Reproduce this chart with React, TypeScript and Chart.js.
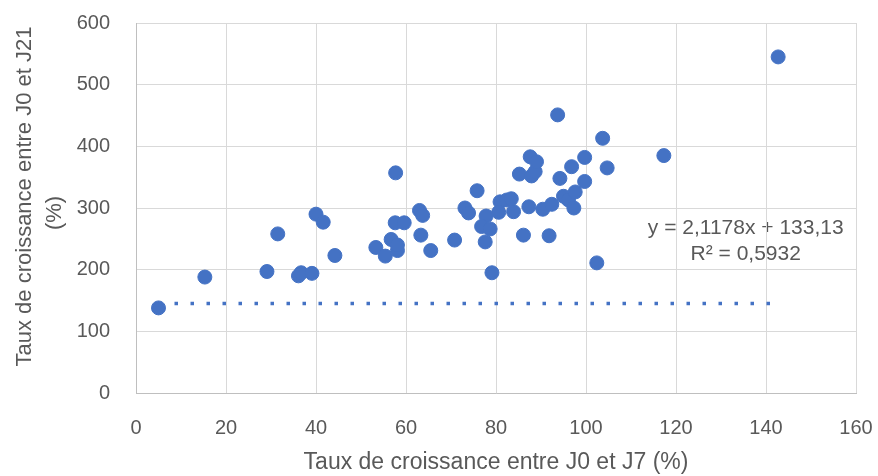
import React, { useEffect, useRef } from "react";
import { Chart, registerables } from "chart.js";

Chart.register(...registerables);

// Growth rate between J0 and J7 (%)
const growthJ0J7 = [
  5.0, 15.3, 29.1, 31.5, 36.1, 36.7, 39.1, 40.0, 41.6, 44.2,
  53.3, 55.4, 56.7, 57.7, 57.6, 58.1, 58.1, 59.6, 63.0, 63.7,
  63.3, 65.5, 70.8, 73.1, 73.9, 75.8, 77.8, 76.8, 78.7, 77.6,
  79.1, 80.9, 80.6, 82.4, 83.9, 83.4, 85.2, 86.1, 87.3, 87.6,
  87.9, 88.7, 89.0, 90.4, 91.8, 92.4, 93.7, 94.2, 95.0, 96.1,
  96.8, 97.3, 97.6, 99.7, 99.7, 102.4, 103.7, 104.7, 117.3, 142.7,
];
// Growth rate between J0 and J21 (%)
const growthJ0J21 = [
  138, 188, 197, 258, 190, 195, 194, 290, 277, 223,
  236, 222, 249, 357, 276, 231, 240, 276, 296, 288,
  256, 231, 248, 300, 292, 328, 287, 270, 266, 245,
  195, 310, 293, 313, 294, 315, 355, 256, 302, 383,
  352, 359, 375, 298, 255, 306, 451, 348, 319, 313,
  367, 300, 326, 343, 382, 211, 413, 365, 385, 545,
];
// Trend line as drawn in the original (dotted)
const trendX = [5, 141];
const trendY = [145, 145];

const xMin = 0, xMax = 160, xStep = 20;
const yMin = 0, yMax = 600, yStep = 100;

const xTitle = "Taux de croissance entre J0 et J7 (%)";
const yTitleLines = ["Taux de croissance entre J0 et J21", "(%)"];
const equationLines = ["y = 2,1178x + 133,13", "R² = 0,5932"];
const equationAnchor = { x: 135.5, y: 268 };

const FONT = "'Liberation Sans', Arial, sans-serif";
const TEXT = "#595959";
const BLUE = "#4472C4";

export default function App() {
  const ref = useRef<HTMLCanvasElement | null>(null);

  useEffect(() => {
    const canvas = ref.current;
    if (!canvas) return;

    const textPlugin = {
      id: "texts",
      beforeDraw(chart: any) {
        const ctx = chart.ctx;
        const sx = chart.scales.x;
        const sy = chart.scales.y;
        ctx.save();
        ctx.fillStyle = TEXT;
        ctx.font = `21px ${FONT}`;
        ctx.textAlign = "center";
        ctx.textBaseline = "middle";
        const ex = sx.getPixelForValue(equationAnchor.x);
        const ey = sy.getPixelForValue(equationAnchor.y);
        ctx.fillText(equationLines[0], ex, ey);
        ctx.fillText(equationLines[1], ex, ey + 26);
        ctx.restore();
      },
      afterDraw(chart: any) {
        const ctx = chart.ctx;
        ctx.save();
        ctx.fillStyle = TEXT;
        ctx.font = `22px ${FONT}`;
        ctx.textAlign = "center";
        ctx.textBaseline = "middle";
        const pos = [
          { x: 25, y: 196.5 },
          { x: 55, y: 213 },
        ];
        yTitleLines.forEach((t, i) => {
          ctx.save();
          ctx.translate(pos[i].x, pos[i].y);
          ctx.rotate(-Math.PI / 2);
          ctx.fillText(t, 0, 0);
          ctx.restore();
        });
        ctx.restore();
      },
    };

    const chart = new Chart(canvas, {
      type: "scatter",
      data: {
        datasets: [
          {
            label: "points",
            data: growthJ0J7.map((x, i) => ({ x, y: growthJ0J21[i] })),
            backgroundColor: BLUE,
            borderColor: BLUE,
            borderWidth: 1,
            pointRadius: 7,
            order: 0,
          },
          {
            label: "trend",
            data: trendX.map((x, i) => ({ x, y: trendY[i] })),
            showLine: true,
            borderColor: BLUE,
            borderWidth: 3.5,
            borderDash: [3.5, 12.5],
            borderCapStyle: "butt",
            pointRadius: 0,
            fill: false,
            order: 1,
          } as any,
        ],
      },
      options: {
        responsive: false,
        animation: false,
        devicePixelRatio: 1,
        layout: { padding: { top: 23, right: 22, left: 0, bottom: 0 } },
        plugins: {
          legend: { display: false },
          tooltip: { enabled: false },
        },
        scales: {
          x: {
            type: "linear",
            min: xMin,
            max: xMax,
            ticks: {
              stepSize: xStep,
              color: TEXT,
              font: { family: FONT, size: 20 },
              padding: 23,
            },
            grid: { color: "#d9d9d9", lineWidth: 1, drawTicks: false },
            border: { display: true, color: "#bfbfbf", width: 1 },
            title: {
              display: true,
              text: xTitle,
              color: TEXT,
              font: { family: FONT, size: 23 },
              padding: { top: 0, bottom: 0 },
            },
            afterFit(scale: any) {
              scale.height = 83;
              scale.paddingLeft = 0;
              scale.paddingRight = 0;
            },
          },
          y: {
            type: "linear",
            min: yMin,
            max: yMax,
            ticks: {
              stepSize: yStep,
              color: TEXT,
              font: { family: FONT, size: 20 },
              padding: 26,
            },
            grid: { color: "#d9d9d9", lineWidth: 1, drawTicks: false },
            border: { display: true, color: "#bfbfbf", width: 1 },
            afterFit(scale: any) {
              scale.width = 136;
              scale.paddingTop = 0;
              scale.paddingBottom = 0;
            },
          },
        },
      },
      plugins: [textPlugin],
    });

    return () => chart.destroy();
  }, []);

  return (
    <div style={{ position: "absolute", left: 0, top: 0, width: 878, height: 476, background: "#fff" }}>
      <canvas ref={ref} width={878} height={476} style={{ width: 878, height: 476 }} />
    </div>
  );
}
